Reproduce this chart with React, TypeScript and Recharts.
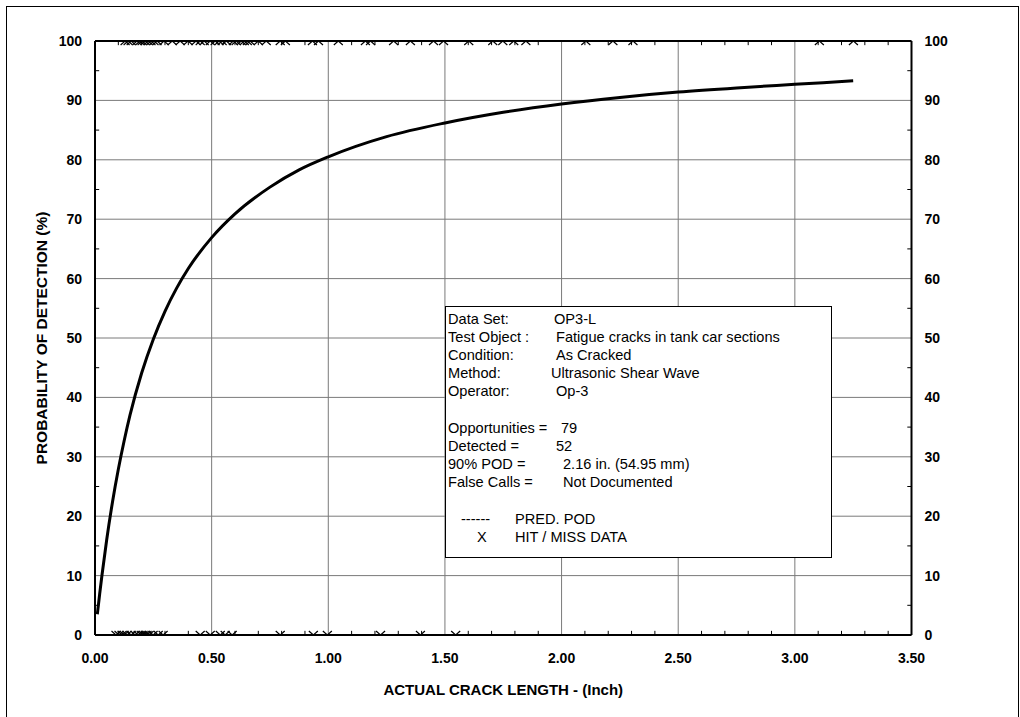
import React from 'react';
import {
  ComposedChart,
  Line,
  Scatter,
  XAxis,
  YAxis,
  CartesianGrid,
  ReferenceLine,
  Label,
} from 'recharts';

// ---- data ----
const xTicks = [0, 0.5, 1, 1.5, 2, 2.5, 3, 3.5];
const yTicks = [0, 10, 20, 30, 40, 50, 60, 70, 80, 90, 100];
const xMinor = [
  0.1, 0.2, 0.3, 0.4, 0.6, 0.7, 0.8, 0.9, 1.1, 1.2, 1.3, 1.4, 1.6, 1.7, 1.8, 1.9,
  2.1, 2.2, 2.3, 2.4, 2.6, 2.7, 2.8, 2.9, 3.1, 3.2, 3.3, 3.4,
];
const yMinor = [5, 15, 25, 35, 45, 55, 65, 75, 85, 95];

// predicted POD curve
const curveX = [
  0.01, 0.015, 0.02, 0.03, 0.05, 0.075, 0.1, 0.125, 0.15, 0.2, 0.25, 0.3, 0.35, 0.4,
  0.5, 0.6, 0.75, 0.875, 1.0, 1.25, 1.5, 1.75, 2.0, 2.25, 2.5, 2.75, 3.0, 3.25,
];
const curvePod = [
  3.5, 5.2, 6.9, 10.1, 16.0, 22.4, 27.9, 32.7, 37.0, 44.1, 49.8, 54.5, 58.4, 61.7,
  66.9, 70.9, 75.4, 78.3, 80.5, 83.9, 86.2, 88.0, 89.4, 90.5, 91.4, 92.1, 92.7, 93.3,
];

// hit data (POD = 100)
const hitX = [
  0.129, 0.142, 0.155, 0.18, 0.193, 0.202, 0.215, 0.228, 0.24, 0.253, 0.266, 0.296,
  0.331, 0.365, 0.399, 0.433, 0.451, 0.468, 0.494, 0.515, 0.532, 0.545, 0.563, 0.593,
  0.605, 0.627, 0.64, 0.653, 0.665, 0.7, 0.734, 0.794, 0.816, 0.932, 0.958, 1.043,
  1.159, 1.181, 1.28, 1.352, 1.451, 1.494, 1.602, 1.705, 1.748, 1.795, 1.847, 2.104,
  2.22, 2.306, 3.105, 3.251,
];
// miss data (POD = 0)
const missX = [
  0.09, 0.103, 0.116, 0.125, 0.137, 0.155, 0.172, 0.185, 0.198, 0.206, 0.215, 0.223,
  0.232, 0.249, 0.271, 0.292, 0.451, 0.494, 0.537, 0.558, 0.588, 0.794, 0.936, 0.996,
  1.224, 1.395, 1.546,
];

const curveData = curveX.map((x, i) => ({ x, pod: curvePod[i] }));
const hitData = hitX.map((x) => ({ x, y: 100 }));
const missData = missX.map((x) => ({ x, y: 0 }));

const FONT = '"Liberation Sans", Arial, Helvetica, sans-serif';
const tickStyle = { fontSize: 14, fontWeight: 700, fill: '#000', fontFamily: FONT };

const XMark = (props: any) => {
  const { cx, cy } = props;
  if (cx == null || cy == null) return null;
  return (
    <g>
      <line x1={cx - 4.5} y1={cy - 4} x2={cx + 4.5} y2={cy + 4} stroke="#000" strokeWidth={1.2} />
      <line x1={cx - 4.5} y1={cy + 4} x2={cx + 4.5} y2={cy - 4} stroke="#000" strokeWidth={1.2} />
    </g>
  );
};

const boxRows: { label: string; value: string; vx: number; top: number }[] = [
  { label: 'Data Set:', value: 'OP3-L', vx: 108, top: 4 },
  { label: 'Test Object :', value: 'Fatigue cracks in tank car sections', vx: 110, top: 22 },
  { label: 'Condition:', value: 'As Cracked', vx: 110, top: 40 },
  { label: 'Method:', value: 'Ultrasonic Shear Wave', vx: 105, top: 58 },
  { label: 'Operator:', value: 'Op-3', vx: 110, top: 76 },
  { label: 'Opportunities =', value: '79', vx: 115, top: 113 },
  { label: 'Detected =', value: '52', vx: 110, top: 131 },
  { label: '90% POD =', value: '2.16 in. (54.95 mm)', vx: 117, top: 149 },
  { label: 'False Calls =', value: 'Not Documented', vx: 117, top: 167 },
];

export default function App() {
  return (
    <div style={{ position: 'absolute', left: 0, top: 0, width: 1020, height: 717, background: '#fff', fontFamily: FONT, overflow: 'hidden' }}>
      <div
        style={{
          position: 'absolute',
          left: 6,
          top: 6,
          width: 1013,
          height: 730,
          border: '1.5px solid #000',
          boxSizing: 'border-box',
        }}
      />
      <div style={{ position: 'absolute', left: 0, top: 0 }}>
        <ComposedChart
          width={1020}
          height={717}
          margin={{ top: 41, right: 33.5, bottom: 42, left: 20 }}
        >
          <CartesianGrid
            yAxisId="left"
            stroke="#7a7a7a"
            strokeWidth={1}
            horizontalValues={yTicks}
            verticalValues={xTicks}
          />
          <XAxis
            dataKey="x"
            type="number"
            domain={[0, 3.5]}
            ticks={xTicks}
            allowDataOverflow
            tickFormatter={(v: number) => v.toFixed(2)}
            tickLine={false}
            tickSize={0}
            tickMargin={18}
            height={40}
            axisLine={{ stroke: '#000', strokeWidth: 2 }}
            tick={tickStyle}
          >
            <Label
              content={(p: any) => {
                const vb = p.viewBox || { x: 95, y: 635, width: 816, height: 40 };
                return (
                  <text
                    x={vb.x + vb.width / 2}
                    y={vb.y + 60}
                    textAnchor="middle"
                    fontSize={15}
                    fontWeight={700}
                    fontFamily={FONT}
                    fill="#000"
                  >
                    ACTUAL CRACK LENGTH - (Inch)
                  </text>
                );
              }}
            />
          </XAxis>
          <YAxis
            yAxisId="left"
            type="number"
            domain={[0, 100]}
            ticks={yTicks}
            allowDataOverflow
            width={75}
            tickLine={false}
            tickSize={0}
            tickMargin={13}
            axisLine={{ stroke: '#000', strokeWidth: 2 }}
            tick={tickStyle}
          >
            <Label
              content={(p: any) => {
                const vb = p.viewBox || { x: 20, y: 41, width: 75, height: 594 };
                const cx = vb.x + 21;
                const cy = vb.y + vb.height / 2;
                return (
                  <text
                    x={cx}
                    y={cy}
                    transform={`rotate(-90, ${cx}, ${cy})`}
                    textAnchor="middle"
                    dominantBaseline="central"
                    fontSize={15.5}
                    fontWeight={700}
                    fontFamily={FONT}
                    fill="#000"
                  >
                    PROBABILITY OF DETECTION (%)
                  </text>
                );
              }}
            />
          </YAxis>
          <YAxis
            yAxisId="right"
            orientation="right"
            type="number"
            domain={[0, 100]}
            ticks={yTicks}
            allowDataOverflow
            width={75}
            tickLine={false}
            tickSize={0}
            tickMargin={13}
            axisLine={{ stroke: '#000', strokeWidth: 2 }}
            tick={tickStyle}
          />
          <ReferenceLine yAxisId="left" y={100} stroke="#000" strokeWidth={2} />
          {xMinor.map((x) => (
            <ReferenceLine
              key={'xb' + x}
              yAxisId="left"
              segment={[{ x, y: 0 }, { x, y: 0.7 }]}
              stroke="#000"
              strokeWidth={1}
            />
          ))}
          {xMinor.map((x) => (
            <ReferenceLine
              key={'xt' + x}
              yAxisId="left"
              segment={[{ x, y: 100 }, { x, y: 99.3 }]}
              stroke="#000"
              strokeWidth={1}
            />
          ))}
          {yMinor.map((y) => (
            <ReferenceLine
              key={'yl' + y}
              yAxisId="left"
              segment={[{ x: 0, y }, { x: 0.018, y }]}
              stroke="#000"
              strokeWidth={1}
            />
          ))}
          {yMinor.map((y) => (
            <ReferenceLine
              key={'yr' + y}
              yAxisId="left"
              segment={[{ x: 3.5, y }, { x: 3.482, y }]}
              stroke="#000"
              strokeWidth={1}
            />
          ))}
          <Line
            yAxisId="left"
            data={curveData}
            dataKey="pod"
            type="monotone"
            stroke="#000"
            strokeWidth={3}
            dot={false}
            activeDot={false}
            isAnimationActive={false}
          />
          <Scatter yAxisId="left" data={hitData} dataKey="y" shape={XMark} isAnimationActive={false} />
          <Scatter yAxisId="left" data={missData} dataKey="y" shape={XMark} isAnimationActive={false} />
        </ComposedChart>
      </div>
      <div
        style={{
          position: 'absolute',
          left: 445,
          top: 306,
          width: 387,
          height: 252,
          border: '1.5px solid #000',
          boxSizing: 'border-box',
          background: '#fff',
          fontSize: 14.6,
          color: '#000',
          fontFamily: FONT,
        }}
      >
        {boxRows.map((r) => (
          <React.Fragment key={r.label}>
            <div style={{ position: 'absolute', left: 2, top: r.top, lineHeight: '16px', whiteSpace: 'nowrap' }}>{r.label}</div>
            <div style={{ position: 'absolute', left: r.vx, top: r.top, lineHeight: '16px', whiteSpace: 'nowrap' }}>{r.value}</div>
          </React.Fragment>
        ))}
        <div style={{ position: 'absolute', left: 15, top: 204, lineHeight: '16px' }}>------</div>
        <div style={{ position: 'absolute', left: 69, top: 204, lineHeight: '16px', whiteSpace: 'nowrap' }}>PRED. POD</div>
        <div style={{ position: 'absolute', left: 31, top: 222, lineHeight: '16px' }}>X</div>
        <div style={{ position: 'absolute', left: 69, top: 222, lineHeight: '16px', whiteSpace: 'nowrap' }}>HIT / MISS DATA</div>
      </div>
    </div>
  );
}
